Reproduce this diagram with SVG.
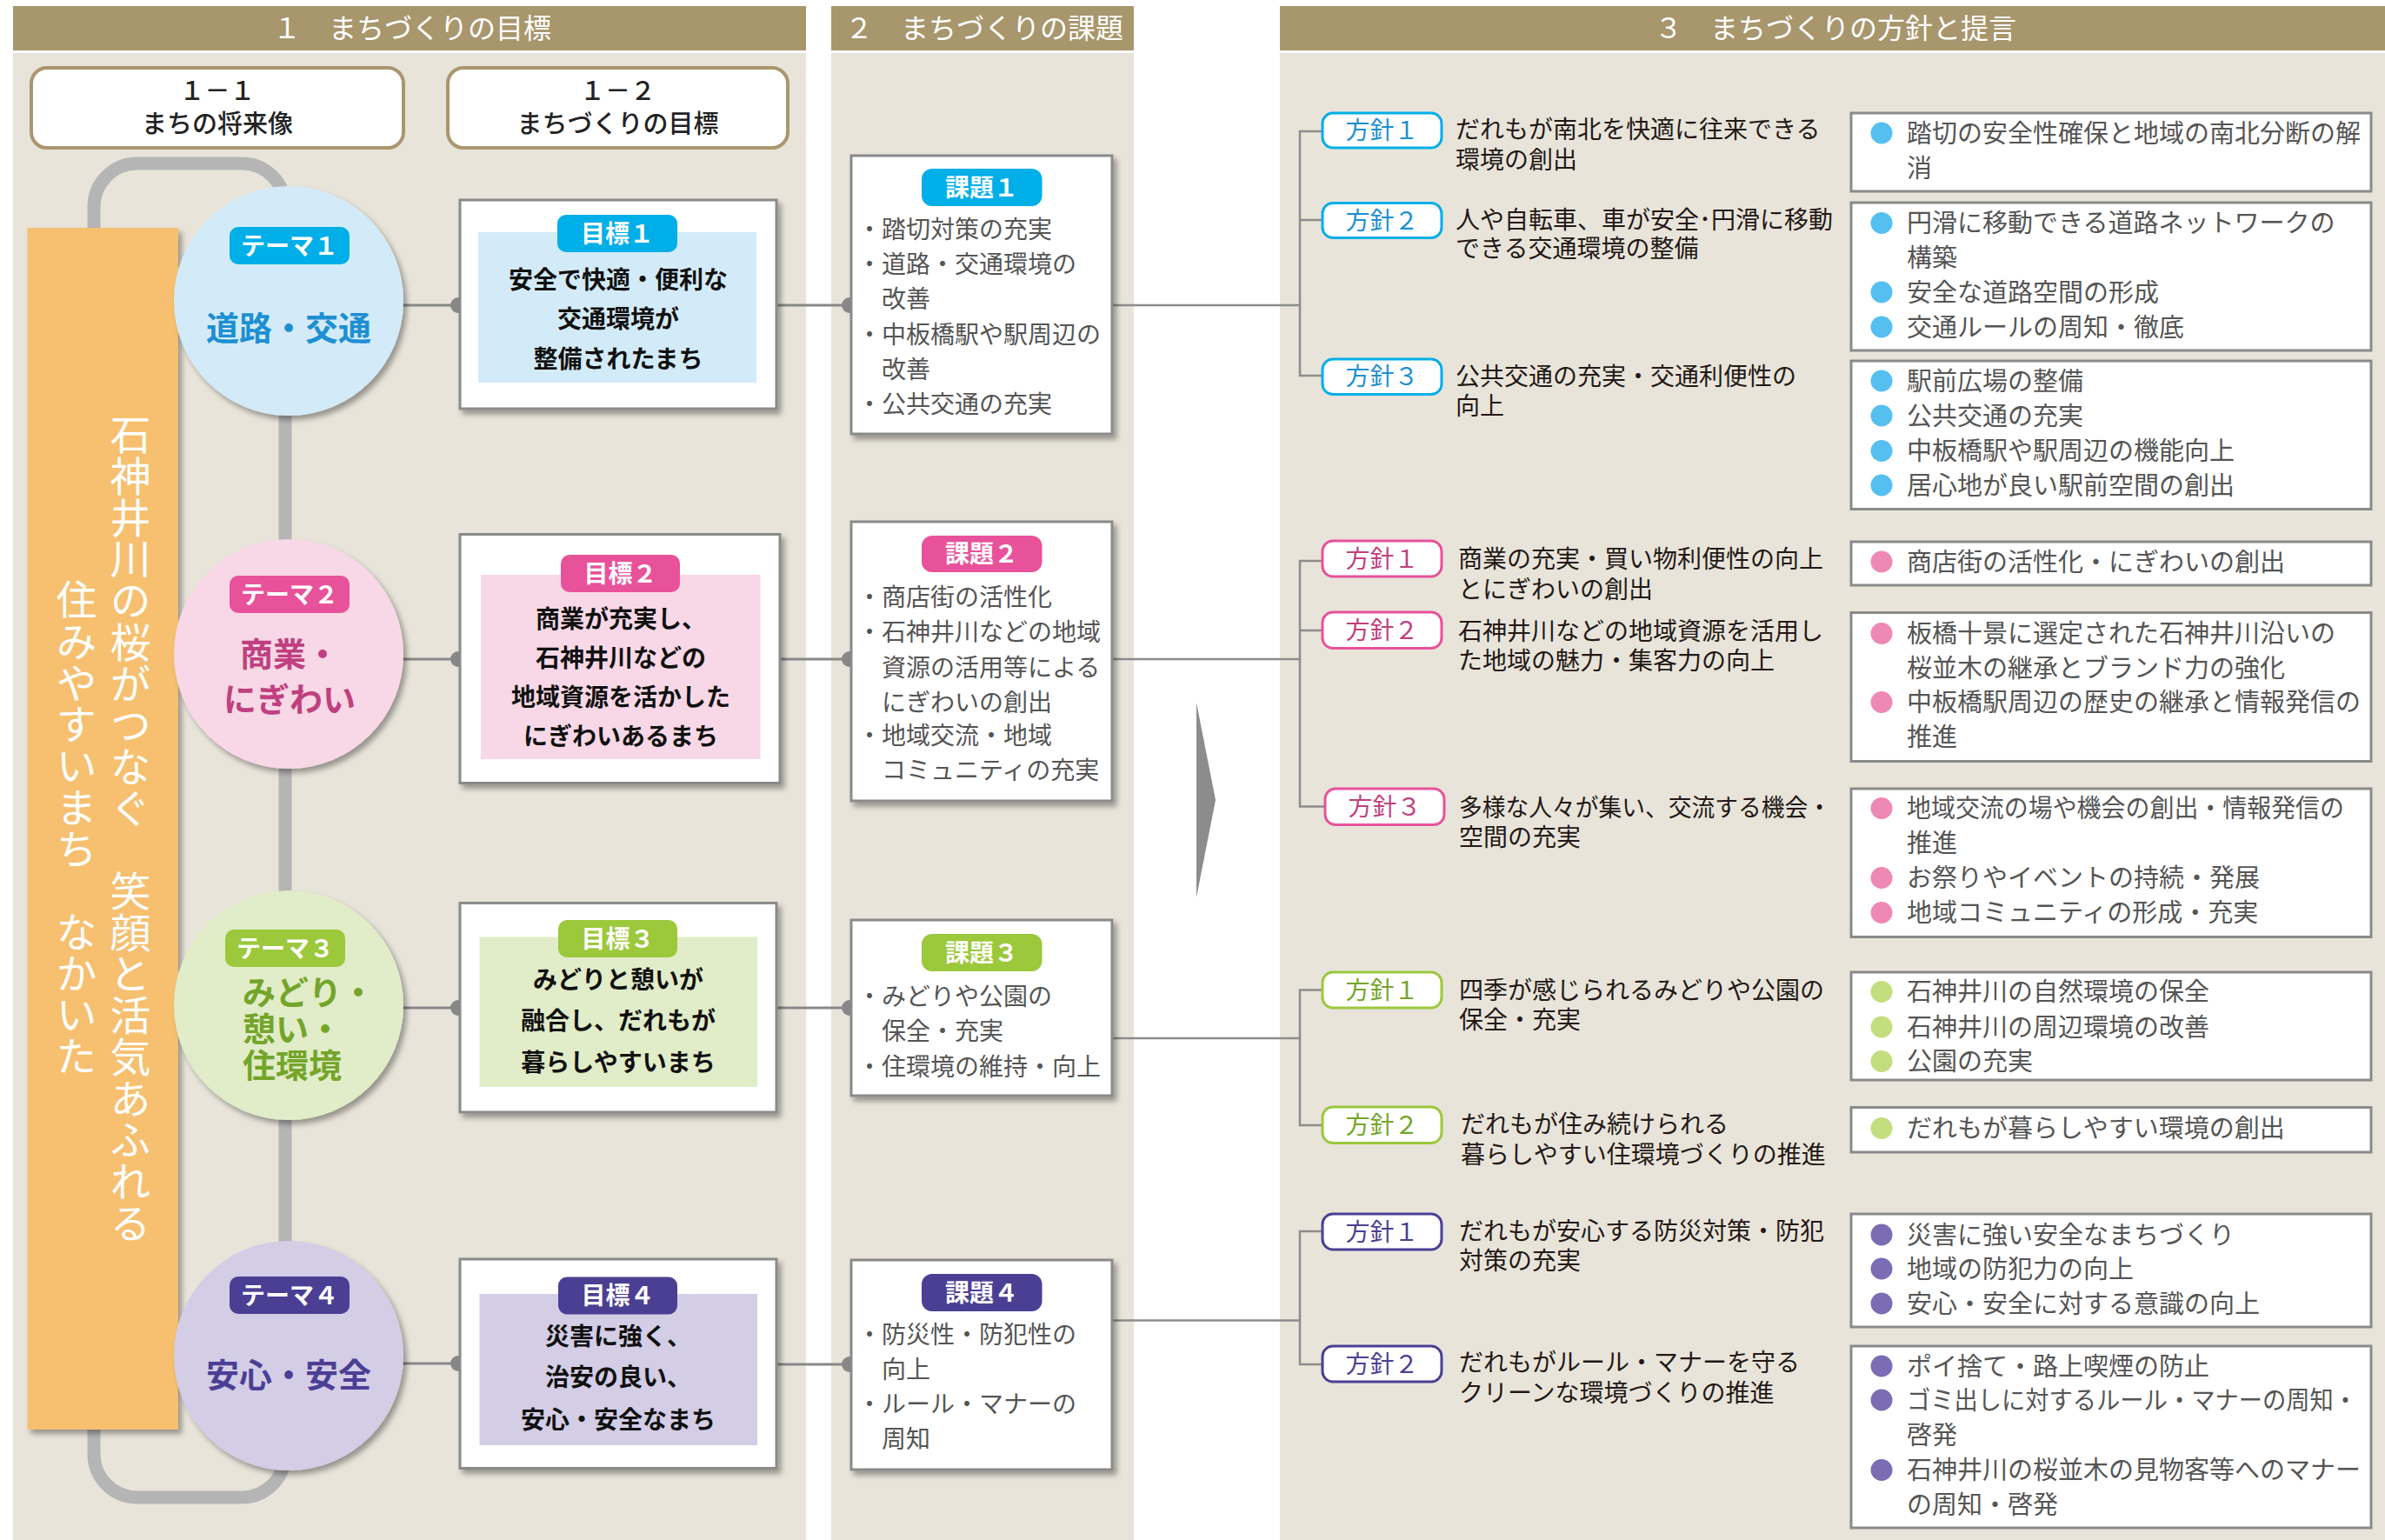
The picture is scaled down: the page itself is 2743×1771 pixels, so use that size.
<svg xmlns="http://www.w3.org/2000/svg" width="2743" height="1771" viewBox="0 0 2743 1771">
<defs>
<style>
text{font-family:"Noto Sans CJK JP","Noto Sans",sans-serif}
.panel{fill:#e8e4da}
.hdr{fill:#a8966d}
.htxt{font-size:32px;fill:#fff;text-anchor:middle}
.topbox{fill:#fff;stroke:#a8976f;stroke-width:4}
.toptxt{font-size:29px;font-weight:500;fill:#222;text-anchor:middle}
.box{fill:#fff;stroke:#8a8a8a;stroke-width:3}
.badge{font-size:28px;font-weight:700;fill:#fff;text-anchor:middle}
.gtxt{font-size:28px;font-weight:700;fill:#111;text-anchor:middle}
.ttxt{font-size:38px;font-weight:700}
.ktxt{font-size:28px;fill:#555}
.hb{fill:#fff;stroke-width:3}
.hbt{font-size:28px;text-anchor:middle}
.desc{font-size:28px;fill:#231815}
.rbox{fill:#fff;stroke:#8a8a8a;stroke-width:3}
.rtxt{font-size:29px;fill:#555}
.conn{stroke:#888;stroke-width:3;fill:none}
.thin{stroke:#8c8c8c;stroke-width:2.5;fill:none}
.vtxt{font-size:47px;fill:#fff;writing-mode:vertical-rl;letter-spacing:0.7px}
</style>
<filter id="sh" x="-10%" y="-10%" width="130%" height="130%">
<feDropShadow dx="4" dy="5" stdDeviation="3" flood-color="#000" flood-opacity="0.35"/>
</filter>
</defs>
<rect width="2743" height="1771" fill="#fff"/>

<g id="panels">
<rect class="panel" x="15" y="61" width="912" height="1710"/>
<rect class="panel" x="956" y="61" width="348" height="1710"/>
<rect class="panel" x="1472" y="61" width="1271" height="1710"/>
<rect class="hdr" x="15" y="7" width="912" height="51"/>
<rect class="hdr" x="956" y="7" width="348" height="51"/>
<rect class="hdr" x="1472" y="7" width="1271" height="51"/>
<text class="htxt" x="474" y="44">１　まちづくりの目標</text>
<text class="htxt" x="1132" y="44">２　まちづくりの課題</text>
<text class="htxt" x="2111" y="44">３　まちづくりの方針と提言</text>
</g>

<g id="head-1-1">
<rect class="topbox" x="36" y="78" width="428" height="92" rx="18"/>
<text class="toptxt" x="250" y="114.5">１－１</text>
<text class="toptxt" x="250" y="152.5">まちの将来像</text>
</g>
<g id="head-1-2">
<rect class="topbox" x="515" y="78" width="391" height="92" rx="18"/>
<text class="toptxt" x="710.5" y="114.5">１－２</text>
<text class="toptxt" x="710.5" y="152.5">まちづくりの目標</text>
</g>

<g id="loop">
<rect x="108" y="188" width="220" height="1534" rx="50" fill="none" stroke="#b5b5b5" stroke-width="15"/>
</g>

<g id="vision">
<rect x="31.5" y="262" width="173.5" height="1382" fill="#f6c06f" filter="url(#sh)"/>
<text class="vtxt" x="150" y="476">石神井川の桜がつなぐ　笑顔と活気あふれる</text>
<text class="vtxt" x="88" y="666">住みやすいまち　なかいた</text>
</g>

<g id="connectors">
<line class="conn" x1="440" y1="351" x2="529" y2="351"/>
<line class="conn" x1="440" y1="758" x2="529" y2="758"/>
<line class="conn" x1="440" y1="1159" x2="529" y2="1159"/>
<line class="conn" x1="440" y1="1568" x2="529" y2="1568"/>
<circle cx="527" cy="351" r="9" fill="#888"/>
<circle cx="527" cy="758" r="9" fill="#888"/>
<circle cx="527" cy="1159" r="9" fill="#888"/>
<circle cx="527" cy="1568" r="9" fill="#888"/>
<line class="conn" x1="893" y1="351" x2="979" y2="351"/>
<line class="conn" x1="897" y1="758" x2="979" y2="758"/>
<line class="conn" x1="893" y1="1159" x2="979" y2="1159"/>
<line class="conn" x1="893" y1="1569" x2="979" y2="1569"/>
<circle cx="977" cy="351" r="9" fill="#888"/>
<circle cx="977" cy="758" r="9" fill="#888"/>
<circle cx="977" cy="1159" r="9" fill="#888"/>
<circle cx="977" cy="1569" r="9" fill="#888"/>
<line class="thin" x1="1279" y1="351" x2="1495" y2="351"/>
<line class="thin" x1="1279" y1="758" x2="1495" y2="758"/>
<line class="thin" x1="1279" y1="1194" x2="1495" y2="1194"/>
<line class="thin" x1="1279" y1="1518.5" x2="1495" y2="1518.5"/>
<path class="thin" d="M1521,151 H1495 V432 H1521 M1495,253 H1521"/>
<path class="thin" d="M1521,645 H1495 V927.5 H1524 M1495,725 H1521"/>
<path class="thin" d="M1521,1138.5 H1495 V1294 H1521"/>
<path class="thin" d="M1521,1416 H1495 V1569 H1521"/>
<polygon points="1376,808 1398,920 1376,1032" fill="#8c8c8c"/>
</g>

<g id="theme1">
<circle cx="332" cy="346" r="132" fill="#d3ebf8" filter="url(#sh)"/>
<rect x="264" y="261" width="138" height="43" rx="10" fill="#00aee8"/>
<text class="badge" x="333" y="292.5">テーマ１</text>
<text class="ttxt" x="332" y="390.5" text-anchor="middle" fill="#1e8fd2">道路・交通</text>
</g>
<g id="theme2">
<circle cx="332" cy="752" r="132" fill="#f8d8e6" filter="url(#sh)"/>
<rect x="264" y="662" width="138" height="43" rx="10" fill="#e8529a"/>
<text class="badge" x="333" y="693.5">テーマ２</text>
<text class="ttxt" x="333" y="765.5" text-anchor="middle" fill="#c0407f">商業・</text>
<text class="ttxt" x="333" y="817.5" text-anchor="middle" fill="#c0407f">にぎわい</text>
</g>
<g id="theme3">
<circle cx="332" cy="1156" r="132" fill="#e1ecc8" filter="url(#sh)"/>
<rect x="259" y="1069" width="138" height="43" rx="10" fill="#9cc83c"/>
<text class="badge" x="328" y="1100.5">テーマ３</text>
<text class="ttxt" x="279" y="1154.5" fill="#74a52a">みどり・</text>
<text class="ttxt" x="279" y="1196.5" fill="#74a52a">憩い・</text>
<text class="ttxt" x="279" y="1239" fill="#74a52a">住環境</text>
</g>
<g id="theme4">
<circle cx="332" cy="1559" r="132" fill="#d3cde6" filter="url(#sh)"/>
<rect x="264" y="1468" width="138" height="43" rx="10" fill="#4b3f94"/>
<text class="badge" x="333" y="1499.5">テーマ４</text>
<text class="ttxt" x="332" y="1594.5" text-anchor="middle" fill="#4b3f94">安心・安全</text>
</g>

<g id="goal1">
<rect class="box" x="529" y="230" width="364" height="240" filter="url(#sh)"/>
<rect x="550" y="267" width="320" height="173" fill="#d3ebf8"/>
<rect x="641" y="247" width="138" height="43" rx="10" fill="#00aee8"/>
<text class="badge" x="710" y="278.5">目標１</text>
<text class="gtxt" x="711" y="331.5">安全で快適・便利な</text>
<text class="gtxt" x="711" y="377">交通環境が</text>
<text class="gtxt" x="711" y="422.5">整備されたまち</text>
</g>
<g id="goal2">
<rect class="box" x="529" y="614.5" width="368" height="286" filter="url(#sh)"/>
<rect x="553" y="661" width="321.5" height="212" fill="#f8d8e6"/>
<rect x="645" y="638" width="137" height="43" rx="10" fill="#e8529a"/>
<text class="badge" x="713.5" y="669.5">目標２</text>
<text class="gtxt" x="714" y="722">商業が充実し、</text>
<text class="gtxt" x="714" y="767">石神井川などの</text>
<text class="gtxt" x="714" y="812">地域資源を活かした</text>
<text class="gtxt" x="714" y="857">にぎわいあるまち</text>
</g>
<g id="goal3">
<rect class="box" x="529" y="1038.5" width="364" height="240.5" filter="url(#sh)"/>
<rect x="551.5" y="1077.5" width="319.5" height="172.5" fill="#e1ecc8"/>
<rect x="642" y="1058" width="137" height="43" rx="10" fill="#9cc83c"/>
<text class="badge" x="710.5" y="1089.5">目標３</text>
<text class="gtxt" x="711" y="1136.5">みどりと憩いが</text>
<text class="gtxt" x="711" y="1184">融合し、だれもが</text>
<text class="gtxt" x="711" y="1231.5">暮らしやすいまち</text>
</g>
<g id="goal4">
<rect class="box" x="529" y="1448" width="364" height="240.5" filter="url(#sh)"/>
<rect x="551.5" y="1488" width="319.5" height="174" fill="#d3cde6"/>
<rect x="642" y="1468.5" width="137" height="43" rx="10" fill="#4b3f94"/>
<text class="badge" x="710.5" y="1500">目標４</text>
<text class="gtxt" x="711" y="1547">災害に強く、</text>
<text class="gtxt" x="711" y="1594">治安の良い、</text>
<text class="gtxt" x="711" y="1643">安心・安全なまち</text>
</g>

<g id="kadai1">
<rect class="box" x="979" y="179" width="300" height="320" filter="url(#sh)"/>
<rect x="1060" y="194" width="138.5" height="43" rx="12" fill="#00aee8"/>
<text class="badge" x="1129" y="225.5">課題１</text>
<text class="ktxt" x="986" y="274">・踏切対策の充実</text>
<text class="ktxt" x="986" y="314">・道路・交通環境の</text>
<text class="ktxt" x="1014" y="354">改善</text>
<text class="ktxt" x="986" y="395">・中板橋駅や駅周辺の</text>
<text class="ktxt" x="1014" y="435">改善</text>
<text class="ktxt" x="986" y="475">・公共交通の充実</text>
</g>
<g id="kadai2">
<rect class="box" x="979" y="600" width="300" height="321" filter="url(#sh)"/>
<rect x="1060" y="616" width="138.5" height="42" rx="12" fill="#e8529a"/>
<text class="badge" x="1129" y="647">課題２</text>
<text class="ktxt" x="986" y="697">・商店街の活性化</text>
<text class="ktxt" x="986" y="737">・石神井川などの地域</text>
<text class="ktxt" x="1014" y="777.5">資源の活用等による</text>
<text class="ktxt" x="1014" y="818">にぎわいの創出</text>
<text class="ktxt" x="986" y="856">・地域交流・地域</text>
<text class="ktxt" x="1014" y="896">コミュニティの充実</text>
</g>
<g id="kadai3">
<rect class="box" x="979" y="1058" width="300" height="202" filter="url(#sh)"/>
<rect x="1060" y="1074" width="138.5" height="43" rx="12" fill="#9cc83c"/>
<text class="badge" x="1129" y="1105.5">課題３</text>
<text class="ktxt" x="986" y="1156">・みどりや公園の</text>
<text class="ktxt" x="1014" y="1196">保全・充実</text>
<text class="ktxt" x="986" y="1236.5">・住環境の維持・向上</text>
</g>
<g id="kadai4">
<rect class="box" x="979" y="1449" width="300" height="241" filter="url(#sh)"/>
<rect x="1060" y="1465" width="138.5" height="43" rx="12" fill="#4b3f94"/>
<text class="badge" x="1129" y="1496.5">課題４</text>
<text class="ktxt" x="986" y="1544.5">・防災性・防犯性の</text>
<text class="ktxt" x="1014" y="1585">向上</text>
<text class="ktxt" x="986" y="1625">・ルール・マナーの</text>
<text class="ktxt" x="1014" y="1665">周知</text>
</g>

<g id="hoshin-1-1">
<rect class="hb" x="1521" y="130" width="137" height="40" rx="12" stroke="#00aee8"/>
<text class="hbt" x="1589.5" y="160" fill="#1e8fd2">方針１</text>
<text class="desc" x="1674" y="159">だれもが南北を快適に往来できる</text>
<text class="desc" x="1674" y="194">環境の創出</text>
</g>
<g id="hoshin-1-2">
<rect class="hb" x="1521" y="233.5" width="137" height="40" rx="12" stroke="#00aee8"/>
<text class="hbt" x="1589.5" y="263.5" fill="#1e8fd2">方針２</text>
<text class="desc" x="1674" y="262.5">人や自転車、車が安全･円滑に移動</text>
<text class="desc" x="1674" y="296">できる交通環境の整備</text>
</g>
<g id="hoshin-1-3">
<rect class="hb" x="1521" y="413" width="137" height="40.5" rx="12" stroke="#00aee8"/>
<text class="hbt" x="1589.5" y="443" fill="#1e8fd2">方針３</text>
<text class="desc" x="1674" y="442.5">公共交通の充実・交通利便性の</text>
<text class="desc" x="1674" y="477">向上</text>
</g>
<g id="hoshin-2-1">
<rect class="hb" x="1521" y="622" width="137" height="41" rx="12" stroke="#e8529a"/>
<text class="hbt" x="1589.5" y="652.5" fill="#c0407f">方針１</text>
<text class="desc" x="1677" y="653">商業の充実・買い物利便性の向上</text>
<text class="desc" x="1677" y="687.5">とにぎわいの創出</text>
</g>
<g id="hoshin-2-2">
<rect class="hb" x="1521" y="704" width="137" height="41.5" rx="12" stroke="#e8529a"/>
<text class="hbt" x="1589.5" y="735" fill="#c0407f">方針２</text>
<text class="desc" x="1677" y="735.5">石神井川などの地域資源を活用し</text>
<text class="desc" x="1677" y="770">た地域の魅力・集客力の向上</text>
</g>
<g id="hoshin-2-3">
<rect class="hb" x="1524" y="907" width="137" height="41.5" rx="12" stroke="#e8529a"/>
<text class="hbt" x="1592.5" y="938" fill="#c0407f">方針３</text>
<text class="desc" x="1678" y="939" textLength="428" lengthAdjust="spacingAndGlyphs">多様な人々が集い、交流する機会・</text>
<text class="desc" x="1678" y="972.5">空間の充実</text>
</g>
<g id="hoshin-3-1">
<rect class="hb" x="1521" y="1118" width="137" height="41" rx="12" stroke="#9cc83c"/>
<text class="hbt" x="1589.5" y="1148.5" fill="#74a52a">方針１</text>
<text class="desc" x="1678" y="1148.5">四季が感じられるみどりや公園の</text>
<text class="desc" x="1678" y="1183">保全・充実</text>
</g>
<g id="hoshin-3-2">
<rect class="hb" x="1521" y="1273" width="137" height="41.5" rx="12" stroke="#9cc83c"/>
<text class="hbt" x="1589.5" y="1304" fill="#74a52a">方針２</text>
<text class="desc" x="1680" y="1302.5">だれもが住み続けられる</text>
<text class="desc" x="1680" y="1338">暮らしやすい住環境づくりの推進</text>
</g>
<g id="hoshin-4-1">
<rect class="hb" x="1521" y="1396" width="137" height="41" rx="12" stroke="#4b3f94"/>
<text class="hbt" x="1589.5" y="1426.5" fill="#4b3f94">方針１</text>
<text class="desc" x="1678" y="1426">だれもが安心する防災対策・防犯</text>
<text class="desc" x="1678" y="1459.5">対策の充実</text>
</g>
<g id="hoshin-4-2">
<rect class="hb" x="1521" y="1548" width="137" height="41" rx="12" stroke="#4b3f94"/>
<text class="hbt" x="1589.5" y="1578.5" fill="#4b3f94">方針２</text>
<text class="desc" x="1678" y="1577">だれもがルール・マナーを守る</text>
<text class="desc" x="1678" y="1611.5">クリーンな環境づくりの推進</text>
</g>

<g id="teigen-1-1">
<rect class="rbox" x="2129" y="130" width="598" height="90"/>
<circle cx="2164" cy="153" r="12.5" fill="#55c0f0"/>
<text class="rtxt" x="2193" y="163.5">踏切の安全性確保と地域の南北分断の解</text>
<text class="rtxt" x="2193" y="203.5">消</text>
</g>
<g id="teigen-1-2">
<rect class="rbox" x="2129" y="233" width="598" height="170"/>
<circle cx="2164" cy="256.5" r="12.5" fill="#55c0f0"/>
<circle cx="2164" cy="336" r="12.5" fill="#55c0f0"/>
<circle cx="2164" cy="376" r="12.5" fill="#55c0f0"/>
<text class="rtxt" x="2193" y="267">円滑に移動できる道路ネットワークの</text>
<text class="rtxt" x="2193" y="307">構築</text>
<text class="rtxt" x="2193" y="346.5">安全な道路空間の形成</text>
<text class="rtxt" x="2193" y="386.5">交通ルールの周知・徹底</text>
</g>
<g id="teigen-1-3">
<rect class="rbox" x="2129" y="415" width="598" height="170.5"/>
<circle cx="2164" cy="438" r="12.5" fill="#55c0f0"/>
<circle cx="2164" cy="478" r="12.5" fill="#55c0f0"/>
<circle cx="2164" cy="518.5" r="12.5" fill="#55c0f0"/>
<circle cx="2164" cy="558" r="12.5" fill="#55c0f0"/>
<text class="rtxt" x="2193" y="448.5">駅前広場の整備</text>
<text class="rtxt" x="2193" y="488.5">公共交通の充実</text>
<text class="rtxt" x="2193" y="529">中板橋駅や駅周辺の機能向上</text>
<text class="rtxt" x="2193" y="568.5">居心地が良い駅前空間の創出</text>
</g>
<g id="teigen-2-1">
<rect class="rbox" x="2129" y="623" width="598" height="50"/>
<circle cx="2164" cy="646" r="12.5" fill="#ee88b4"/>
<text class="rtxt" x="2193" y="656.5">商店街の活性化・にぎわいの創出</text>
</g>
<g id="teigen-2-2">
<rect class="rbox" x="2129" y="704.5" width="598" height="171"/>
<circle cx="2164" cy="728.5" r="12.5" fill="#ee88b4"/>
<circle cx="2164" cy="807.5" r="12.5" fill="#ee88b4"/>
<text class="rtxt" x="2193" y="739">板橋十景に選定された石神井川沿いの</text>
<text class="rtxt" x="2193" y="779">桜並木の継承とブランド力の強化</text>
<text class="rtxt" x="2193" y="818">中板橋駅周辺の歴史の継承と情報発信の</text>
<text class="rtxt" x="2193" y="857.5">推進</text>
</g>
<g id="teigen-2-3">
<rect class="rbox" x="2129" y="907" width="598" height="170.5"/>
<circle cx="2164" cy="929.5" r="12.5" fill="#ee88b4"/>
<circle cx="2164" cy="1009.5" r="12.5" fill="#ee88b4"/>
<circle cx="2164" cy="1049.5" r="12.5" fill="#ee88b4"/>
<text class="rtxt" x="2193" y="940" textLength="503" lengthAdjust="spacingAndGlyphs">地域交流の場や機会の創出・情報発信の</text>
<text class="rtxt" x="2193" y="980">推進</text>
<text class="rtxt" x="2193" y="1020">お祭りやイベントの持続・発展</text>
<text class="rtxt" x="2193" y="1060">地域コミュニティの形成・充実</text>
</g>
<g id="teigen-3-1">
<rect class="rbox" x="2129" y="1118" width="598" height="124"/>
<circle cx="2164" cy="1140.5" r="12.5" fill="#c3de7e"/>
<circle cx="2164" cy="1181" r="12.5" fill="#c3de7e"/>
<circle cx="2164" cy="1220.5" r="12.5" fill="#c3de7e"/>
<text class="rtxt" x="2193" y="1151">石神井川の自然環境の保全</text>
<text class="rtxt" x="2193" y="1191.5">石神井川の周辺環境の改善</text>
<text class="rtxt" x="2193" y="1231">公園の充実</text>
</g>
<g id="teigen-3-2">
<rect class="rbox" x="2129" y="1273.5" width="598" height="51.5"/>
<circle cx="2164" cy="1297.5" r="12.5" fill="#c3de7e"/>
<text class="rtxt" x="2193" y="1308">だれもが暮らしやすい環境の創出</text>
</g>
<g id="teigen-4-1">
<rect class="rbox" x="2129" y="1396" width="598" height="130"/>
<circle cx="2164" cy="1420" r="12.5" fill="#7b6db4"/>
<circle cx="2164" cy="1459" r="12.5" fill="#7b6db4"/>
<circle cx="2164" cy="1499" r="12.5" fill="#7b6db4"/>
<text class="rtxt" x="2193" y="1430.5">災害に強い安全なまちづくり</text>
<text class="rtxt" x="2193" y="1469.5">地域の防犯力の向上</text>
<text class="rtxt" x="2193" y="1509.5">安心・安全に対する意識の向上</text>
</g>
<g id="teigen-4-2">
<rect class="rbox" x="2129" y="1548" width="598" height="209"/>
<circle cx="2164" cy="1571" r="12.5" fill="#7b6db4"/>
<circle cx="2164" cy="1610" r="12.5" fill="#7b6db4"/>
<circle cx="2164" cy="1690.5" r="12.5" fill="#7b6db4"/>
<text class="rtxt" x="2193" y="1581.5">ポイ捨て・路上喫煙の防止</text>
<text class="rtxt" x="2193" y="1620.5" textLength="518" lengthAdjust="spacingAndGlyphs">ゴミ出しに対するルール・マナーの周知・</text>
<text class="rtxt" x="2193" y="1660.5">啓発</text>
<text class="rtxt" x="2193" y="1701">石神井川の桜並木の見物客等へのマナー</text>
<text class="rtxt" x="2193" y="1741">の周知・啓発</text>
</g>
</svg>
